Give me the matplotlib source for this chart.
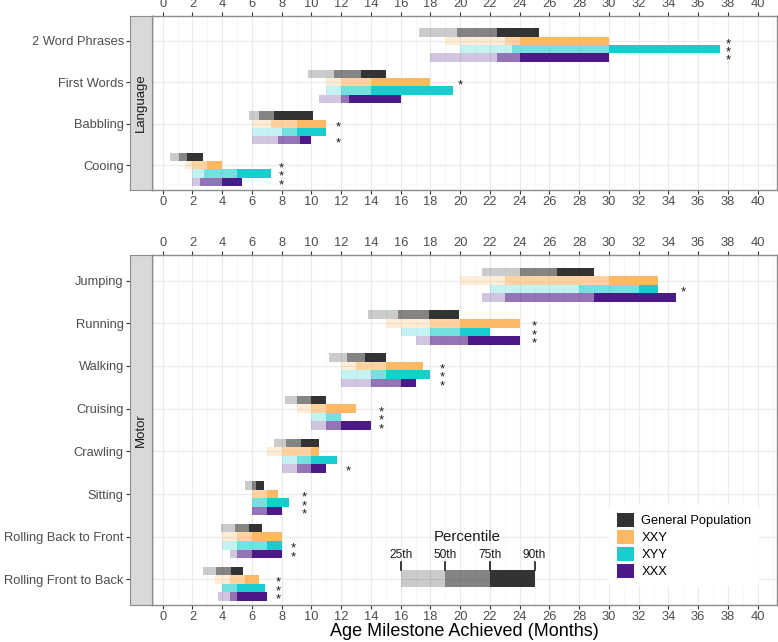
import matplotlib
matplotlib.use("Agg")
import matplotlib.pyplot as plt
from matplotlib.patches import Patch
from matplotlib.ticker import MultipleLocator

plt.rcParams['font.family'] = ['Liberation Sans', 'DejaVu Sans']

# ===============================
# DATA (percentiles 25th, 50th, 75th, 90th in months)
# ===============================

groups = ['General Population', 'XXY', 'XYY', 'XXX']
colors = ['#333333', '#FDB863', '#17CDCD', '#4B1A86']

lang_items = ['2 Word Phrases', 'First Words', 'Babbling', 'Cooing']
lang_gp = [(17.2, 19.8, 22.5, 25.3), (9.75, 11.5, 13.3, 15.0), (5.8, 6.5, 7.45, 10.1), (0.5, 1.1, 1.65, 2.7)]
lang_xxy = [(19, 23, 24, 30), (11, 12, 14, 18), (6, 7.25, 9, 11), (1.5, 2, 3, 4)]
lang_xyy = [(20, 23.5, 30, 37.5), (11, 12, 14, 19.5), (6, 8, 9, 11), (2, 2.75, 5, 7.25)]
lang_xxx = [(18, 22.5, 24, 30), (10.5, 12, 12.5, 16), (6, 7.75, 9.25, 10), (2, 2.5, 4, 5.3)]
lang_star_x = [38, 20, 11.8, 8]
lang_star_groups = [[1, 2, 3], [1], [1, 3], [1, 2, 3]]

motor_items = ['Jumping', 'Running', 'Walking', 'Cruising', 'Crawling', 'Sitting',
               'Rolling Back to Front', 'Rolling Front to Back']
motor_gp = [(21.5, 24, 26.5, 29), (13.8, 15.8, 17.9, 19.9), (11.2, 12.4, 13.6, 15),
            (8.25, 9, 10, 11), (7.5, 8.3, 9.3, 10.5), (5.5, 6, 6.3, 6.8),
            (3.9, 4.85, 5.8, 6.65), (2.7, 3.6, 4.6, 5.4)]
motor_xxy = [(20, 23, 30, 33.3), (15, 18, 20, 24), (12, 13, 15, 17.5),
             (9, 10, 11, 13), (7, 8, 10, 10.5), (6, 6, 7, 7.75),
             (4, 5, 6, 8), (3.5, 4.5, 5.5, 6.5)]
motor_xyy = [(22, 28, 32, 33.3), (16, 18, 20, 22), (12, 14, 15, 18),
             (10, 11, 12, 12), (8, 9, 10, 11.75), (6, 6, 7, 8.5),
             (4, 5, 7, 8), (4, 4, 5, 6.85)]
motor_xxx = [(21.5, 23, 29, 34.5), (17, 18, 20.5, 24), (12, 14, 16, 17),
             (10, 11, 12, 14), (8, 9, 10, 11), (6, 6, 7, 8),
             (4.5, 5, 6, 8), (3.75, 4.5, 5, 7)]
motor_star_x = [35, 25, 18.8, 14.7, 12.5, 9.5, 8.8, 7.8]
motor_star_groups = [[2], [1, 2, 3], [1, 2, 3], [1, 2, 3], [3], [1, 2, 3], [2, 3], [1, 2, 3]]

pct_labels = ['25th', '50th', '75th', '90th']
pct_key = [16, 19, 22, 25]

# ===============================
# LAYOUT
# ===============================

W, H = 778, 642
fig = plt.figure(figsize=(W / 100, H / 100), dpi=100)

def box(x0, y0, x1, y1):
    return [x0 / W, 1 - y1 / H, (x1 - x0) / W, (y1 - y0) / H]

tick_col = '#4D4D4D'
alphas = [0.25, 0.6, 1.0]
bar_h = 0.2
offsets = [-0.2, 0.0, 0.2, 0.4]
fs = 9.3


def draw_panel(rect, strip_rect, items, data, star_x, star_groups, strip_label):
    ax = fig.add_axes(rect)
    sax = fig.add_axes(strip_rect, sharey=ax)
    n = len(items)
    pos = list(range(n))

    for g, rows in enumerate(data):
        for i, p in enumerate(rows):
            y = pos[i] + offsets[g]
            for k in range(3):
                ax.barh(y, p[k + 1] - p[k], left=p[k], height=bar_h,
                        color=colors[g], alpha=alphas[k], linewidth=0, zorder=3)

    for i, (sx, sg) in enumerate(zip(star_x, star_groups)):
        for g in sg:
            ax.text(sx, pos[i] + offsets[g] + 0.08, '*', ha='center', va='center',
                    fontsize=9.5, color='#1A1A1A', zorder=4)

    ax.set_xlim(-0.72, 41.3)
    ax.set_ylim(n - 1 + 0.6, -0.6)
    ax.xaxis.set_major_locator(MultipleLocator(2))
    ax.xaxis.set_minor_locator(MultipleLocator(1))
    ax.set_yticks(pos)
    ax.tick_params(axis='y', left=False, labelleft=False)
    ax.tick_params(axis='x', which='major', top=True, labeltop=True, bottom=True,
                   labelbottom=True, length=3, color='#333333',
                   labelsize=fs, labelcolor=tick_col, pad=1)
    ax.tick_params(axis='x', which='minor', top=False, bottom=False)
    ax.grid(which='major', color='#EBEBEB', linewidth=0.9, zorder=0)
    ax.grid(which='minor', axis='x', color='#F4F4F4', linewidth=0.5, zorder=0)
    ax.set_axisbelow(True)
    for s in ax.spines.values():
        s.set_color('#8C8C8C')
        s.set_linewidth(1)
    ax.spines['left'].set_color('#333333')

    sax.set_facecolor('#D9D9D9')
    sax.set_xticks([])
    sax.set_yticks(pos)
    sax.set_yticklabels(items)
    sax.tick_params(axis='y', length=3, color='#333333', labelsize=fs,
                    labelcolor=tick_col, pad=1.5)
    for s in sax.spines.values():
        s.set_color('#8C8C8C')
    sax.text(0.5, 0.5, strip_label, rotation=90, ha='center', va='center',
             fontsize=9.5, color='#1A1A1A', transform=sax.transAxes)
    return ax


ax_top = draw_panel(box(152, 16, 777, 190), box(130, 16, 152, 190), lang_items,
                    [lang_gp, lang_xxy, lang_xyy, lang_xxx],
                    lang_star_x, lang_star_groups, 'Language')
ax_bot = draw_panel(box(152, 255, 777, 605), box(130, 255, 152, 605), motor_items,
                    [motor_gp, motor_xxy, motor_xyy, motor_xxx],
                    motor_star_x, motor_star_groups, 'Motor')

ax_bot.set_xlabel('Age Milestone Achieved (Months)', fontsize=13, color='black', labelpad=0)

# ===============================
# PERCENTILE KEY
# ===============================

yk = 6.98
for k in range(3):
    ax_bot.barh(yk, pct_key[k + 1] - pct_key[k], left=pct_key[k], height=0.38,
                color=colors[0], alpha=alphas[k], linewidth=0, zorder=5)
for xk, lab in zip(pct_key, pct_labels):
    ax_bot.plot([xk, xk], [yk - 0.19, yk - 0.38], color='#1A1A1A', lw=1.2, zorder=5)
    ax_bot.text(xk, yk - 0.4, lab, ha='center', va='bottom', fontsize=8.6, color='#1A1A1A', zorder=5)
ax_bot.text(20.5, 6.0, 'Percentile', ha='center', va='center', fontsize=10.8, color='#1A1A1A', zorder=5)

# ===============================
# GROUP LEGEND
# ===============================

handles = [Patch(facecolor=c, edgecolor='none') for c in colors]
leg = ax_bot.legend(handles, groups, loc='upper left',
                    bbox_to_anchor=(609 / W, 1 - 505 / H), bbox_transform=fig.transFigure,
                    frameon=True, facecolor='white', edgecolor='none', framealpha=1,
                    fontsize=9.3, handlelength=1.3, handleheight=1.3,
                    labelspacing=0.2, handletextpad=0.6, borderpad=0.6, borderaxespad=0)
leg.set_zorder(6)

plt.savefig('out.png', dpi=100)
